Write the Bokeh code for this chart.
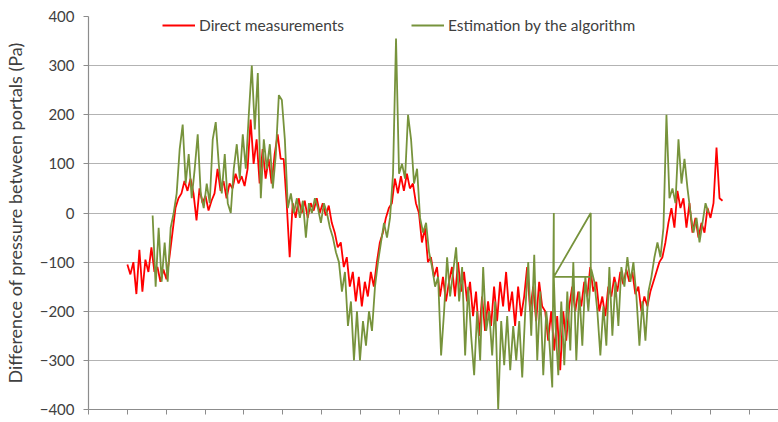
from bokeh.plotting import figure
from bokeh.models import FixedTicker, Range1d, Legend, LegendItem, CustomJSTickFormatter
from bokeh.embed import file_html
from bokeh.resources import INLINE
import numpy as np

# ---- data ----
y_ticks = [-400, -300, -200, -100, 0, 100, 200, 300, 400]
x_ticks = list(range(0, 18))

red_start, red_end = 1.0, 16.31
red_y = [-105, -125, -100, -165, -75, -160, -95, -120, -70, -120, -110, -140, -115, -135,
         -90, -40, 10, 30, 40, 65, 45, 70, 40, -15, 50, 20, 35, 5, 25, 40, 90, 45, 65, 30,
         60, 50, 80, 60, 75, 55, 90, 190, 100, 150, 60, 130, 70, 110, 60, 120, 160, 110,
         110, 20, -90, 20, -10, 30, 0, 25, -10, 20, 5, 30, 0, 20, -5, 15, -20, -40, -70,
         -60, -110, -90, -150, -120, -180, -130, -190, -140, -170, -120, -150, -100, -60,
         -40, -10, 10, 20, 70, 40, 75, 45, 80, 50, 60, 20, 0, -60, -30, -100, -90, -130,
         -110, -170, -130, -180, -140, -110, -170, -100, -160, -120, -180, -140, -210, -160,
         -250, -170, -240, -180, -230, -150, -220, -140, -190, -120, -200, -160, -230, -150,
         -210, -170, -110, -200, -150, -220, -140, -190, -200, -260, -200, -280, -210, -320,
         -200, -260, -190, -150, -200, -160, -190, -140, -170, -110, -160, -140, -200, -170,
         -210, -150, -170, -130, -160, -120, -145, -115, -140, -120, -165, -150, -200, -170,
         -190, -160, -140, -120, -100, -90, -60, -20, 10, -30, 45, 10, 30, -30, 20, -40, -10,
         -50, -20, -40, 10, -10, 20, 133, 30, 25]

green_start, green_end = 1.65, 15.95
green_y = [-5, -150, -30, -140, -60, -140, -30, 0, 40, 130, 180, 60, 120, 30, 90, 160, 40, 10,
           60, 20, 150, 185, 100, 40, 120, 20, 0, 90, 140, 70, 160, 90, 200, 300, 170, 285, 30,
           150, 90, 140, 50, 120, 240, 230, 150, 10, 40, 0, 30, -10, 25, -50, 20, 0, 30, 10,
           -20, 20, 0, -30, -50, -80, -100, -160, -120, -230, -180, -300, -200, -300, -220,
           -270, -200, -240, -150, -100, -60, -20, -50, -10, 80, 355, 80, 100, 70, 200, 150,
           60, 90, -10, -40, -20, -80, -110, -150, -130, -290, -200, -90, -170, -120, -70,
           -180, -110, -290, -150, -250, -330, -200, -300, -110, -240, -200, -290, -180, -400,
           -220, -310, -210, -320, -230, -300, -220, -335, -200, -100, -250, -85, -300, -160,
           -330, -200, -260, -355, -220, -330, -180, -310, -160, -280, -100, -300, -160, -270,
           -130, -200, -115, -140, -200, -290, -190, -270, -110, -250, -140, -230, -110, -150,
           -90, -140, -100, -170, -270, -180, -260, -160, -130, -90, -60, -90, -30, 200, 30,
           50, 20, 150, 60, 110, 50, 0, -40, -10, -60, -20, 20, 0]
# stray back-and-forth segment of the estimation series
green_loop_after = 133          # index in green_y after which the loop is drawn
green_loop_x = [11.97, 11.97, 12.92, 12.92, 11.97]
green_loop_y = [0, -130, 0, -130, -130]

# ---- build series ----
red_x = np.linspace(red_start, red_end, len(red_y))
gx = list(np.linspace(green_start, green_end, len(green_y)))
gy = list(green_y)
i = green_loop_after + 1
green_x = gx[:i] + green_loop_x + gx[i:]
green_yy = gy[:i] + green_loop_y + gy[i:]

FONT = "Lato"
GRID = "#b3b3b3"

p = figure(width=778, height=422, output_backend="svg", toolbar_location=None,
           x_range=Range1d(0, 17.75), y_range=Range1d(-400, 400),
           min_border_left=85, min_border_top=16, min_border_bottom=13, min_border_right=0)
p.outline_line_color = None
p.background_fill_color = "white"
p.border_fill_color = "white"

r_red = p.line(red_x, red_y, line_color="#ff0000", line_width=1.8)
r_green = p.line(green_x, green_yy, line_color="#77933c", line_width=1.8)

p.yaxis.ticker = FixedTicker(ticks=y_ticks)
p.xaxis.ticker = FixedTicker(ticks=x_ticks)
p.xaxis.formatter = CustomJSTickFormatter(code="return ''")
p.xgrid.grid_line_color = None
p.ygrid.grid_line_color = GRID
p.ygrid.grid_line_width = 1.2

for ax in (p.xaxis[0], p.yaxis[0]):
    ax.axis_line_color = "#8c8c8c"
    ax.axis_line_width = 1.2
    ax.major_tick_line_color = "#8c8c8c"
    ax.major_tick_out = 5
    ax.major_tick_in = 0
    ax.minor_tick_line_color = None

p.yaxis.major_label_text_font = FONT
p.yaxis.major_label_text_font_size = "15px"
p.yaxis.major_label_text_color = "#404040"
p.yaxis.major_label_standoff = 9
p.yaxis.axis_label = "Difference of pressure between portals (Pa)"
p.yaxis.axis_label_text_font = FONT
p.yaxis.axis_label_text_font_size = "18px"
p.yaxis.axis_label_text_font_style = "normal"
p.yaxis.axis_label_text_color = "#404040"
p.yaxis.axis_label_standoff = 11

legend = Legend(items=[LegendItem(label="Direct measurements", renderers=[r_red]),
                       LegendItem(label="Estimation by the algorithm", renderers=[r_green])],
                orientation="horizontal", location=(74, 375),
                glyph_width=33, glyph_height=16, label_height=16,
                label_standoff=4, spacing=67, padding=0, margin=0,
                label_text_font=FONT, label_text_font_size="15.5px", label_text_color="#404040",
                border_line_color=None, background_fill_alpha=0)
p.add_layout(legend, "center")

open("out.html", "w").write(file_html(p, INLINE))
